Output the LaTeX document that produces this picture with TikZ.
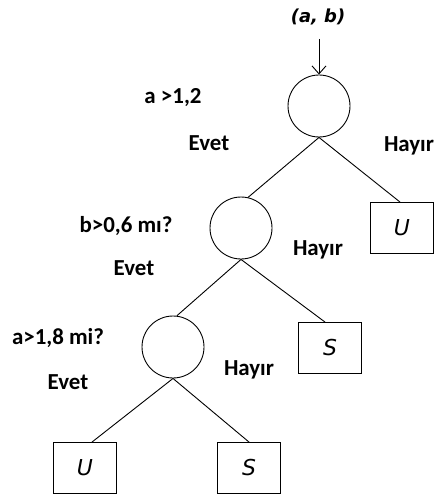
\documentclass[tikz,border=0pt]{standalone}
\usepackage{fontspec}
\setmainfont{Carlito}
\newfontfamily\leaffont{DejaVu Sans}
\usepackage{tikz}
\usetikzlibrary{shapes, arrows.meta, positioning}

\tikzset{
  test/.style={draw, circle, line width=0.9bp, minimum size=62bp, inner sep=0pt},
  leaf/.style={draw, rectangle, line width=0.9bp, minimum width=63bp, minimum height=51bp, inner sep=0pt, font=\leaffont\itshape\fontsize{22}{26}\selectfont},
  lbl/.style={font=\bfseries\fontsize{23}{27}\selectfont, inner sep=0pt},
  edge/.style={line width=0.9bp}
}

\begin{document}
\begin{tikzpicture}[x=1bp, y=-1bp]
  \useasboundingbox (0,0) rectangle (435,497);

  % Input
  \node[font=\leaffont\bfseries\itshape\fontsize{18}{21}\selectfont, inner sep=0pt] (ab) at (318, 17) {(a, b)};
  \coordinate (in) at (319, 39);

  % Decision nodes
  \node[test] (root) at (319, 106) {};
  \node[test] (c2) at (241, 228) {};
  \node[test] (c3) at (173, 347) {};

  % Leaves
  \node[leaf] (u1) at (402, 228) {U};
  \node[leaf] (s1) at (330, 348) {S};
  \node[leaf] (u2) at (85, 468) {U};
  \node[leaf] (s2) at (249, 468) {S};

  % Edges
  \draw[edge, -{Straight Barb[length=8bp, width=14bp]}] (in) -- (root.north);
  \draw[edge] (root.south) -- (c2.77);
  \draw[edge] (root.south) -- ([xshift=-2bp]u1.north);
  \draw[edge] (c2.south) -- (c3.83);
  \draw[edge] (c2.south) -- ([xshift=-5bp]s1.north);
  \draw[edge] (c3.south) -- ([xshift=7bp]u2.north);
  \draw[edge] (c3.south) -- (s2.north);

  % Labels
  \node[lbl] (q1) at (173, 98) {a >1,2};
  \node[lbl] (y1) at (209, 143) {Evet};
  \node[lbl] (n1) at (409, 146) {Hayır};
  \node[lbl] (q2) at (126, 226) {b>0,6 mı?};
  \node[lbl] (y2) at (134, 268) {Evet};
  \node[lbl] (n2) at (318, 250) {Hayır};
  \node[lbl] (q3) at (58, 338) {a>1,8 mi?};
  \node[lbl] (y3) at (68, 382) {Evet};
  \node[lbl] (n3) at (249, 370) {Hayır};
\end{tikzpicture}
\end{document}
